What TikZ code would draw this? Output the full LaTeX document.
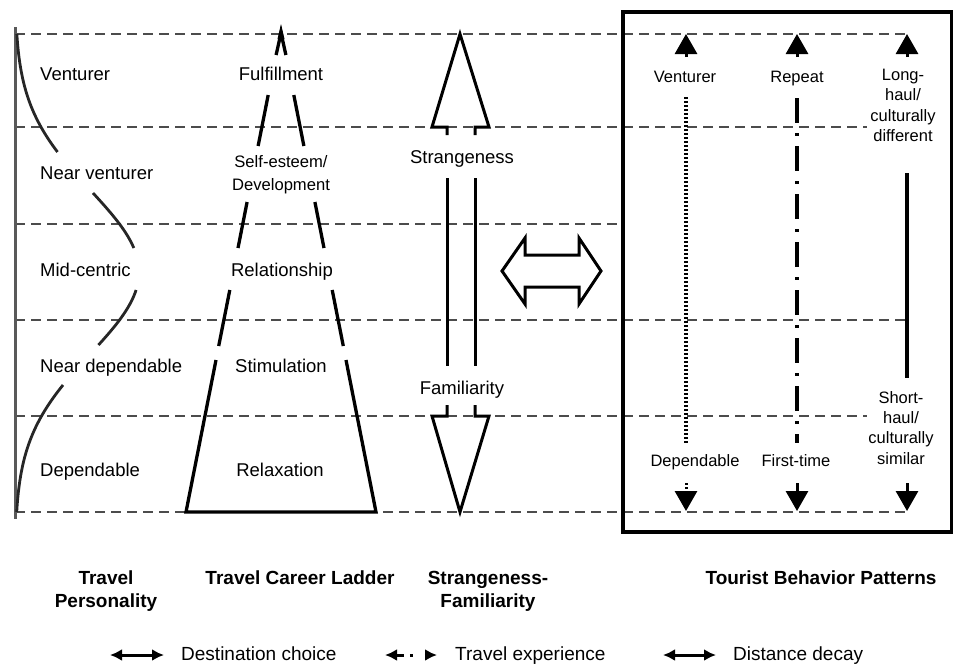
\documentclass[tikz,border=0pt]{standalone}
\usepackage{fontspec}
\setmainfont{Liberation Sans}
\usetikzlibrary{arrows.meta}
\newcommand\FontBody{\fontsize{18.5}{22}\selectfont}
\newcommand\FontBox{\fontsize{16.5}{20.3}\selectfont}
\newcommand\FontSmallLad{\fontsize{16.6}{23}\selectfont}
\newcommand\FontTitle{\fontsize{19}{23}\selectfont\bfseries}
\newcommand\FontLegend{\fontsize{19}{23}\selectfont}
\begin{document}
\begin{tikzpicture}[x=1pt,y=-1pt,
  dline/.style={draw=black!70, line width=2.3pt, dash pattern=on 10pt off 6pt},
  ladder/.style={draw=black, line width=3.3pt, line join=miter},
  pcurve/.style={draw=black!85, line width=2.8pt},
  outl/.style={draw=black, line width=3pt, line join=miter},
  plab/.style={anchor=mid west, inner sep=0pt, yshift=-4pt, font=\FontBody},
  clab/.style={anchor=mid, inner sep=0pt, yshift=-4pt, font=\FontBody},
  blab/.style={anchor=mid, inner sep=0pt, yshift=-4pt, font=\FontBox},
  mlab/.style={anchor=north, inner sep=0pt, align=center, font=\FontBox},
  tlab/.style={anchor=north, inner sep=0pt, align=center, font=\FontTitle},
  leglab/.style={anchor=base west, inner sep=0pt, font=\FontLegend},
  boxarr/.style={draw=black, line width=3pt, -{Triangle[length=20pt,width=22pt]}},
  dotline/.style={draw=black, line width=3.2pt, dash pattern=on 2.4pt off 1.6pt},
  dashdotline/.style={draw=black, line width=3.2pt, dash pattern=on 25pt off 10pt on 3pt off 10pt},
  solidline/.style={draw=black, line width=3.2pt},
  legarr/.style={draw=black, line width=3pt, {Latex[length=12pt,width=12pt]}-{Latex[length=12pt,width=12pt]}}
]
\useasboundingbox (0,0) rectangle (955,665);

% horizontal dashed level lines
\draw[dline] (15,34) -- (907,34);
\draw[dline] (15,127) -- (867,127);
\draw[dline] (15,224) -- (623,224);
\draw[dline] (15,320) -- (907,320);
\draw[dline] (15,416) -- (867,416);
\draw[dline] (15,512) -- (907,512);

% left axis
\draw[draw=black!65, line width=3pt] (15,27) -- (15,519);

% travel personality curve (broken)
\draw[pcurve] plot[domain=34:152, samples=40, variable=\t] ({15+124*exp(-((\t-272)/116)*((\t-272)/116))}, {\t});
\draw[pcurve] plot[domain=193:248, samples=20, variable=\t] ({15+124*exp(-((\t-272)/116)*((\t-272)/116))}, {\t});
\draw[pcurve] plot[domain=290:345, samples=20, variable=\t] ({15+124*exp(-((\t-272)/116)*((\t-272)/116))}, {\t});
\draw[pcurve] plot[domain=385:512, samples=40, variable=\t] ({15+124*exp(-((\t-272)/116)*((\t-272)/116))}, {\t});

\node[plab] (pven) at (40,74) {Venturer};
\node[plab] (pnven) at (40,173) {Near venturer};
\node[plab] (pmid) at (40,270) {Mid-centric};
\node[plab] (pndep) at (40,366) {Near dependable};
\node[plab] (pdep) at (40,470) {Dependable};

% travel career ladder
\draw[ladder] (216,360) -- (186,512) -- (376,512) -- (346,360);
\draw[ladder] (218.7,346) -- (229.8,290);
\draw[ladder] (343.3,346) -- (332.2,290);
\draw[ladder] (238,248) -- (247.1,202);
\draw[ladder] (324,248) -- (314.9,202);
\draw[ladder] (258.1,146) -- (268.2,95);
\draw[ladder] (303.9,146) -- (293.8,95);
\draw[ladder] (276.1,55) -- (281,33) -- (285.9,55);
\fill[black] (281,24) -- (284.5,39) -- (277.5,39) -- cycle;

\node[clab] (lful) at (281,74) {Fulfillment};
\node[anchor=north, inner sep=0pt, align=center, font=\FontSmallLad] (lself) at (281,155) {Self-esteem/\\Development};
\node[clab] (lrel) at (282,270) {Relationship};
\node[clab] (lsti) at (281,366) {Stimulation};
\node[clab] (lrlx) at (280,470) {Relaxation};

% strangeness - familiarity arrow
\draw[outl] (447,135) -- (447,127) -- (432,127) -- (460,34) -- (489,127) -- (475,127) -- (475,135);
\draw[outl] (447,178) -- (447,366);
\draw[outl] (475,178) -- (475,366);
\draw[outl] (447,405) -- (447,416) -- (432,416) -- (460,512) -- (489,416) -- (475,416) -- (475,405);
\node[clab] (sstr) at (462,157) {Strangeness};
\node[clab] (sfam) at (462,388) {Familiarity};

% double outline arrow
\draw[outl] (502,271) -- (525,238) -- (525,255) -- (579,255) -- (579,238) -- (601,271)
  -- (579,304) -- (579,287) -- (525,287) -- (525,304) -- cycle;

% tourist behavior box
\draw[draw=black, line width=3.5pt] (623,12) rectangle (951.5,532);

\coordinate (c1top) at (686,34);   \coordinate (c1ts) at (686,57);
\coordinate (c2top) at (797,34);   \coordinate (c2ts) at (797,57);
\coordinate (c3top) at (907,34);   \coordinate (c3ts) at (907,57);
\coordinate (c1bot) at (686,511);  \coordinate (c1bs) at (686,483);
\coordinate (c2bot) at (797,511);  \coordinate (c2bs) at (797,483);
\coordinate (c3bot) at (907,511);  \coordinate (c3bs) at (907,483);
\coordinate (c1a) at (686,97);  \coordinate (c1b) at (686,443);
\coordinate (c2a) at (797,98);  \coordinate (c2b) at (797,443);
\coordinate (c3a) at (907,173); \coordinate (c3b) at (907,378);

\draw[boxarr] (c1ts) -- (c1top);
\draw[boxarr] (c2ts) -- (c2top);
\draw[boxarr] (c3ts) -- (c3top);
\draw[boxarr, dash pattern=on 2.4pt off 1.6pt] (c1bs) -- (c1bot);
\draw[boxarr] (c2bs) -- (c2bot);
\draw[boxarr] (c3bs) -- (c3bot);
\draw[dotline] (c1a) -- (c1b);
\draw[dashdotline] (c2a) -- (c2b);
\draw[solidline] (c3a) -- (c3b);

\node[blab] (bven) at (685,76) {Venturer};
\node[blab] (brep) at (797,76) {Repeat};
\node[blab] (bdep) at (695,460) {Dependable};
\node[blab] (bfirst) at (796,460) {First-time};
\node[mlab] (blong) at (903,69) {Long-\\haul/\\culturally\\different};
\node[mlab] (bshort) at (901,391) {Short-\\haul/\\culturally\\similar};

% titles
\node[tlab] (tpers) at (106,571) {Travel\\Personality};
\node[tlab] (tcar) at (300,571) {Travel Career Ladder};
\node[tlab] (tsf) at (488,571) {Strangeness-\\Familiarity};
\node[tlab] (ttbp) at (821,571) {Tourist Behavior Patterns};

% legend
\coordinate (la1) at (110,655); \coordinate (la2) at (164,655);
\coordinate (lb1) at (385,655); \coordinate (lb2) at (437,655);
\coordinate (lc1) at (663,655); \coordinate (lc2) at (716,655);
\draw[legarr] (la1) -- (la2);
\draw[legarr, dash pattern=on 8pt off 6pt on 3pt off 12pt] (lb1) -- (lb2);
\draw[legarr] (lc1) -- (lc2);
\node[leglab] (ld) at (181,660) {Destination choice};
\node[leglab] (lt) at (455,660) {Travel experience};
\node[leglab] (lx) at (733,660) {Distance decay};
\end{tikzpicture}
\end{document}
